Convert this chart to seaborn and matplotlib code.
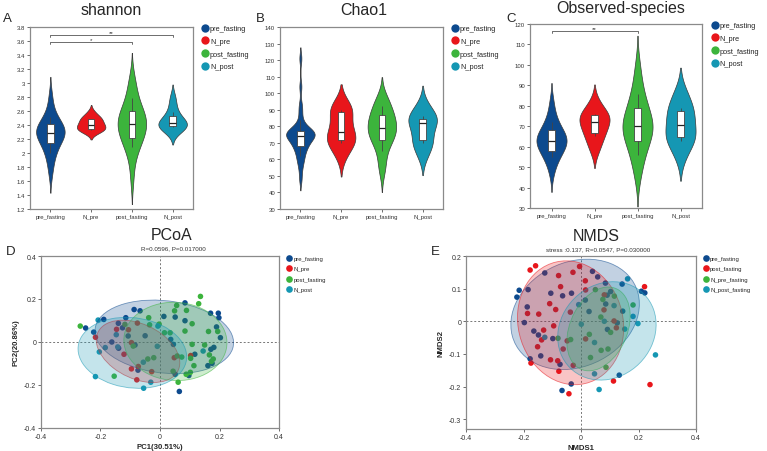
import numpy as np
import pandas as pd
import matplotlib
matplotlib.use("Agg")
import matplotlib.pyplot as plt
import seaborn as sns
from matplotlib.patches import Ellipse
from matplotlib.lines import Line2D
from matplotlib.ticker import FuncFormatter, MultipleLocator

# ---------------- data ----------------
groups = ["pre_fasting", "N_pre", "post_fasting", "N_post"]
nmds_groups = ["pre_fasting", "post_fasting", "N_pre_fasting", "N_post_fasting"]

shannon_pre_fasting = [1.68, 1.80, 1.88, 1.95, 2.00, 2.04, 2.08, 2.11, 2.14, 2.17, 2.19, 2.21, 2.23, 2.25, 2.26,
                       2.28, 2.29, 2.30, 2.31, 2.33, 2.34, 2.35, 2.37, 2.39, 2.41, 2.43, 2.45, 2.48, 2.51, 2.55,
                       2.62, 2.72, 2.84]
shannon_N_pre = [2.30, 2.32, 2.33, 2.35, 2.38, 2.39, 2.41, 2.45, 2.48, 2.49, 2.52, 2.58]
shannon_post_fasting = [1.60, 1.80, 1.95, 2.02, 2.08, 2.12, 2.16, 2.20, 2.22, 2.25, 2.28, 2.30, 2.33, 2.35, 2.38,
                        2.40, 2.42, 2.44, 2.46, 2.48, 2.50, 2.53, 2.56, 2.58, 2.60, 2.63, 2.67, 2.72, 2.78, 2.85,
                        2.92, 3.00, 3.10]
shannon_N_post = [2.30, 2.34, 2.37, 2.39, 2.40, 2.42, 2.44, 2.47, 2.52, 2.58, 2.68, 2.80]

chao1_pre_fasting = [48, 54, 58, 60, 62, 64, 66, 67, 68, 69, 70, 71, 72, 73, 73, 74, 74, 75, 75, 76, 76, 76,
                     77, 77, 77, 78, 79, 81, 84, 89, 93, 104, 121]
chao1_N_pre = [62, 68, 70, 72, 73, 75, 78, 82, 88, 90, 91, 93]
chao1_post_fasting = [52, 55, 58, 62, 65, 68, 70, 71, 72, 73, 74, 75, 76, 77, 78, 78, 79, 80, 81, 82, 83, 84,
                      85, 86, 87, 88, 89, 90, 92, 94, 95, 97, 98]
chao1_N_post = [62, 67, 70, 72, 74, 81, 83, 83, 84, 86, 89, 93]

obs_pre_fasting = [46, 50, 52, 53, 55, 56, 57, 58, 58, 59, 60, 60, 61, 62, 62, 63, 63, 64, 64, 65, 65, 66, 66,
                   67, 68, 69, 70, 71, 72, 74, 76, 79, 83]
obs_N_pre = [58, 62, 65, 67, 69, 71, 73, 74, 75, 76, 78, 82]
obs_post_fasting = [44, 48, 52, 54, 56, 58, 60, 62, 63, 64, 65, 66, 67, 68, 69, 69, 70, 71, 72, 73, 74, 75, 76,
                    77, 79, 80, 82, 84, 86, 88, 92, 96, 101]
obs_N_post = [55, 61, 63, 65, 66, 68, 73, 75, 77, 79, 83, 87]

# PCoA coordinates
pcoa_pre_fasting_x = [-0.250, -0.223, -0.189, -0.140, -0.115, -0.087, -0.067, -0.126, -0.162, -0.139, -0.107,
                      -0.084, -0.050, -0.074, 0.013, 0.051, 0.084, 0.084, 0.036, 0.045, 0.051, 0.065, 0.097,
                      0.117, 0.170, 0.196, 0.198, 0.190, 0.203, 0.181, 0.171, 0.161, 0.175]
pcoa_pre_fasting_y = [0.065, 0.046, 0.105, 0.087, 0.113, 0.151, 0.145, 0.066, 0.000, -0.029, 0.028, -0.014,
                      0.029, -0.131, 0.119, 0.116, 0.182, 0.099, 0.012, -0.011, -0.150, -0.230, -0.156, -0.057,
                      0.134, 0.134, 0.113, 0.070, 0.020, -0.025, -0.034, -0.110, -0.099]
pcoa_N_pre_x = [-0.217, -0.146, -0.106, -0.076, -0.096, -0.121, -0.096, -0.073, -0.078, -0.028, 0.048, 0.103]
pcoa_N_pre_y = [0.022, 0.059, 0.057, 0.088, -0.003, -0.057, -0.125, -0.114, -0.176, -0.138, -0.073, -0.063]
pcoa_post_fasting_x = [-0.268, -0.118, -0.038, -0.035, -0.003, 0.015, 0.034, 0.056, 0.049, 0.089, 0.136, 0.130,
                       0.084, 0.108, 0.163, 0.194, 0.150, 0.108, 0.166, 0.179, 0.173, 0.103, 0.073, 0.058,
                       0.044, 0.102, 0.088, 0.061, 0.114, -0.021, -0.041, -0.090, -0.154]
pcoa_post_fasting_y = [0.074, 0.082, 0.113, 0.080, 0.083, 0.043, 0.043, 0.170, 0.145, 0.147, 0.212, 0.178,
                       0.051, 0.085, 0.049, 0.049, -0.014, -0.011, -0.060, -0.079, -0.090, -0.076, -0.070,
                       -0.065, -0.136, -0.141, -0.150, -0.187, -0.110, -0.073, -0.079, -0.019, -0.159]
pcoa_N_post_x = [-0.208, -0.204, -0.217, -0.184, -0.147, -0.142, -0.007, -0.009, -0.056, -0.031, -0.055, 0.145]
pcoa_N_post_y = [0.102, -0.046, -0.161, -0.026, 0.034, -0.023, 0.074, -0.020, -0.094, -0.187, -0.215, -0.042]

# NMDS coordinates
nmds_pre_fasting_x = [-0.223, -0.215, -0.184, -0.187, -0.197, -0.164, -0.148, -0.140, -0.177, -0.126, -0.105,
                      -0.064, -0.033, -0.098, -0.073, -0.066, -0.034, 0.040, 0.058, 0.085, 0.103, 0.091,
                      0.086, 0.015, 0.028, 0.143, 0.145, 0.126, 0.092, 0.210, 0.222, 0.133]
nmds_pre_fasting_y = [0.074, 0.095, 0.097, 0.044, -0.004, -0.030, -0.042, -0.106, -0.115, 0.148, 0.086, 0.078,
                      0.086, -0.053, -0.132, -0.212, -0.192, 0.153, 0.136, 0.117, 0.091, 0.080, 0.053, 0.065,
                      0.030, 0.114, 0.031, -0.005, -0.025, 0.092, 0.087, -0.165]
nmds_post_fasting_x = [-0.177, -0.158, -0.186, -0.147, -0.130, -0.137, -0.151, -0.174, -0.109, -0.088, -0.095,
                       -0.078, -0.071, -0.028, -0.005, 0.015, 0.016, -0.037, -0.048, -0.062, -0.106, -0.081,
                       -0.077, -0.027, -0.042, 0.016, 0.081, 0.080, 0.115, 0.123, 0.221, 0.113, 0.240]
nmds_post_fasting_y = [0.157, 0.170, 0.024, 0.022, -0.027, -0.057, -0.078, -0.128, 0.054, 0.036, -0.014, 0.140,
                       0.106, 0.150, 0.168, 0.124, 0.096, 0.028, -0.060, -0.085, -0.118, -0.121, -0.153, -0.135,
                       -0.222, -0.054, 0.081, 0.035, 0.001, -0.020, 0.106, -0.183, -0.194]
nmds_N_pre_fasting_x = [0.050, 0.076, 0.116, 0.181, 0.069, 0.029, -0.036, -0.080, 0.070, 0.094, 0.103, 0.033, 0.087]
nmds_N_pre_fasting_y = [0.097, 0.067, 0.077, 0.050, 0.013, -0.040, -0.056, -0.052, -0.089, -0.085, -0.034,
                        -0.111, -0.141]
nmds_N_post_fasting_x = [0.162, -0.008, 0.115, 0.181, 0.198, 0.152, 0.001, 0.081, 0.047, 0.047, 0.063, 0.259,
                         -0.126]
nmds_N_post_fasting_y = [0.130, 0.051, 0.048, 0.015, -0.007, -0.024, -0.009, 0.000, -0.065, -0.161, -0.209,
                         -0.103, -0.049]

# ---------------- style ----------------
COLORS = ["#0d4a8e", "#e8161b", "#3cb43c", "#1597b3"]
W, H = 767, 452

sns.set_theme(style="white")
plt.rcParams["font.family"] = ["Liberation Sans", "DejaVu Sans"]
plt.rcParams["axes.unicode_minus"] = False

fig = plt.figure(figsize=(W / 100, H / 100), dpi=100)


def px_axes(l, t, r, b):
    return fig.add_axes([l / W, 1 - b / H, (r - l) / W, (b - t) / H])


def ftext(x, y, s, **kw):
    fig.text(x / W, 1 - y / H, s, **kw)


def style_axes(ax, tick_fs):
    for sp in ax.spines.values():
        sp.set_visible(True)
        sp.set_color("#8a8a8a")
        sp.set_linewidth(0.9)
    ax.tick_params(axis="both", labelsize=tick_fs, length=2, width=0.5, pad=1.5,
                   colors="#333333", bottom=True, left=True, direction="out")
    ax.set_xlabel("")
    ax.set_ylabel("")


def fmt(v, _):
    return f"{round(v, 3):g}"


def add_legend(ax, labels, ms, fs, anchor, spacing):
    handles = [Line2D([], [], marker="o", linestyle="", markersize=ms, markerfacecolor=c,
                      markeredgecolor="none") for c in COLORS]
    ax.legend(handles, labels, loc="upper left", bbox_to_anchor=anchor, frameon=False, fontsize=fs,
              handletextpad=0.1, labelspacing=spacing, borderaxespad=0, borderpad=0, handlelength=1.1)


def violin_panel(ax, series, ylim, step, bw):
    df = pd.DataFrame([(g, v) for g, vals in zip(groups, series) for v in vals], columns=["group", "value"])
    pal = dict(zip(groups, COLORS))
    for g in groups:
        sub = df[df["group"] == g]
        sns.violinplot(data=sub, x="group", y="value", order=groups, hue="group", hue_order=groups,
                       palette=pal, dodge=False, density_norm="width", width=0.7, inner=None,
                       linewidth=0.5, linecolor="#3a3a3a", cut=2, bw_adjust=bw.get(g, 1.0),
                       saturation=1, legend=False, ax=ax)
    sns.boxplot(data=df, x="group", y="value", order=groups, width=0.16, whis=(10, 90), showfliers=False,
                showcaps=False, fill=True, color="white", linecolor="#444444", linewidth=0.6,
                saturation=1, medianprops=dict(color="#222222", linewidth=0.9), ax=ax)
    ax.set_xlim(-0.5, 3.5)
    ax.set_ylim(*ylim)
    ax.yaxis.set_major_locator(MultipleLocator(step))
    ax.yaxis.set_major_formatter(FuncFormatter(fmt))
    style_axes(ax, 4.3)
    add_legend(ax, groups, 6.0, 5.3, (1.05, 1.01), 0.75)


def bracket(ax, x1, x2, y, drop, label):
    ax.plot([x1, x1, x2, x2], [y - drop, y, y, y - drop], color="#555555", lw=0.6, clip_on=False)
    ax.text((x1 + x2) / 2, y, label, ha="center", va="bottom", fontsize=4.5, color="#333333")


def conf_ellipse(ax, x, y, color, level=0.75):
    x = np.asarray(x, float)
    y = np.asarray(y, float)
    cov = np.cov(x, y)
    vals, vecs = np.linalg.eigh(cov)
    order = vals.argsort()[::-1]
    vals, vecs = vals[order], vecs[:, order]
    angle = np.degrees(np.arctan2(vecs[1, 0], vecs[0, 0]))
    k = np.sqrt(-2 * np.log(1 - level))
    w, h = 2 * k * np.sqrt(vals)
    ax.add_patch(Ellipse((x.mean(), y.mean()), w, h, angle=angle, facecolor=color, alpha=0.25,
                         edgecolor="none", zorder=4))
    ax.add_patch(Ellipse((x.mean(), y.mean()), w, h, angle=angle, facecolor="none", alpha=0.55,
                         edgecolor=color, lw=0.6, zorder=4))


def scatter_panel(ax, xs, ys, labels, xlim, ylim, ystep):
    df = pd.DataFrame([(lab, a, b) for lab, xv, yv in zip(labels, xs, ys) for a, b in zip(xv, yv)],
                      columns=["group", "x", "y"])
    ax.axhline(0, color="#777777", lw=0.7, ls=(0, (2, 2)), zorder=1)
    ax.axvline(0, color="#777777", lw=0.7, ls=(0, (2, 2)), zorder=1)
    sns.scatterplot(data=df, x="x", y="y", hue="group", hue_order=labels, palette=dict(zip(labels, COLORS)),
                    s=16, edgecolor="none", legend=False, ax=ax, zorder=3)
    for xv, yv, c in zip(xs, ys, COLORS):
        conf_ellipse(ax, xv, yv, c)
    ax.set_xlim(*xlim)
    ax.set_ylim(*ylim)
    ax.xaxis.set_major_locator(MultipleLocator(0.2))
    ax.yaxis.set_major_locator(MultipleLocator(ystep))
    ax.xaxis.set_major_formatter(FuncFormatter(fmt))
    ax.yaxis.set_major_formatter(FuncFormatter(fmt))
    style_axes(ax, 5.0)
    add_legend(ax, labels, 4.8, 4.3, (1.03, 1.0), 0.85)


# ---------------- panel A ----------------
axA = px_axes(30, 28, 193, 210)
violin_panel(axA, [shannon_pre_fasting, shannon_N_pre, shannon_post_fasting, shannon_N_post],
             (1.2, 3.8), 0.2, {})
bracket(axA, 0, 3, 3.68, 0.025, "**")
bracket(axA, 0, 2, 3.585, 0.025, "*")

# ---------------- panel B ----------------
axB = px_axes(280, 28, 443, 210)
violin_panel(axB, [chao1_pre_fasting, chao1_N_pre, chao1_post_fasting, chao1_N_post],
             (30, 140), 10, {"pre_fasting": 0.5})

# ---------------- panel C ----------------
axC = px_axes(530, 25, 702, 209)
violin_panel(axC, [obs_pre_fasting, obs_N_pre, obs_post_fasting, obs_N_post],
             (30, 120), 10, {})
bracket(axC, 0, 2, 116.4, 1.0, "**")

# ---------------- panel D ----------------
axD = px_axes(41, 257, 279, 429)
scatter_panel(axD, [pcoa_pre_fasting_x, pcoa_N_pre_x, pcoa_post_fasting_x, pcoa_N_post_x],
              [pcoa_pre_fasting_y, pcoa_N_pre_y, pcoa_post_fasting_y, pcoa_N_post_y],
              groups, (-0.4, 0.4), (-0.4, 0.4), 0.2)
axD.set_xlabel("PC1(30.51%)", fontsize=5.6, fontweight="bold", labelpad=2)
axD.set_ylabel("PC2(20.86%)", fontsize=5.6, fontweight="bold", labelpad=3)

# ---------------- panel E ----------------
axE = px_axes(466, 257, 696, 430)
scatter_panel(axE, [nmds_pre_fasting_x, nmds_post_fasting_x, nmds_N_pre_fasting_x, nmds_N_post_fasting_x],
              [nmds_pre_fasting_y, nmds_post_fasting_y, nmds_N_pre_fasting_y, nmds_N_post_fasting_y],
              nmds_groups, (-0.4, 0.4), (-0.33, 0.2), 0.1)
axE.set_xlabel("NMDS1", fontsize=5.6, fontweight="bold", labelpad=2)
axE.set_ylabel("NMDS2", fontsize=5.6, fontweight="bold", labelpad=3)

# ---------------- titles & letters ----------------
ftext(111.7, 15, "shannon", fontsize=11.5, ha="center", va="baseline")
ftext(363.3, 15, "Chao1", fontsize=11.5, ha="center", va="baseline")
ftext(620.8, 13.5, "Observed-species", fontsize=11.5, ha="center", va="baseline")
ftext(172, 240, "PCoA", fontsize=11.5, ha="center", va="baseline")
ftext(173, 250.7, "R=0.0596, P=0.017000", fontsize=4.5, ha="center", va="baseline", color="#333333")
ftext(596, 241, "NMDS", fontsize=11.5, ha="center", va="baseline")
ftext(598, 251.7, "stress :0.137, R=0.0547, P=0.030000", fontsize=4.5, ha="center", va="baseline",
      color="#333333")

for lx, ly, lt in [(2.7, 21.7, "A"), (256, 21.7, "B"), (506.7, 21.7, "C"), (6, 255, "D"), (430.7, 255, "E")]:
    ftext(lx, ly, lt, fontsize=9.5, ha="left", va="baseline")

fig.savefig("out.png", dpi=100)
